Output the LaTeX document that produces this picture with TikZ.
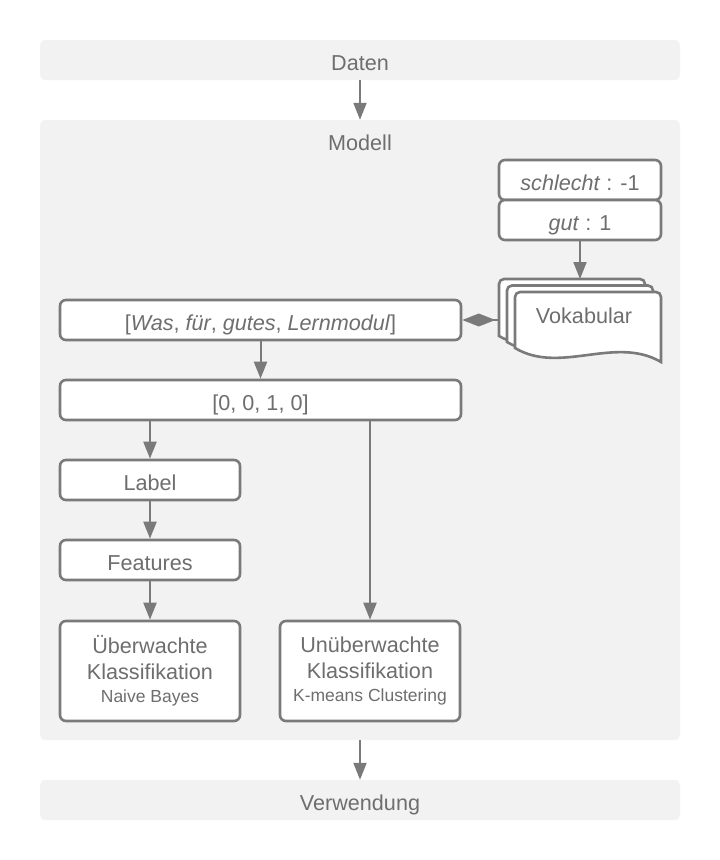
\documentclass[tikz,border=0pt]{standalone}
\usepackage{fontspec}
\setmainfont{Liberation Sans}
\usetikzlibrary{arrows.meta}
\definecolor{bandfill}{HTML}{F2F2F2}
\definecolor{ln}{HTML}{7A7A7A}
\definecolor{tx}{HTML}{6E6E6E}
\newcommand\fsmain{\fontsize{21.6pt}{26pt}\selectfont}
\newcommand\fssmall{\fontsize{17.5pt}{23pt}\selectfont}
\begin{document}
\begin{tikzpicture}[x=1pt,y=-1pt,
  oneline/.style={text height=20.5pt, text depth=0pt},
  bandstyle/.style={fill=bandfill, draw=none, rounded corners=5pt, inner sep=0pt, text=tx, font=\fsmain},
  boxstyle/.style={draw=ln, line width=2.6pt, fill=white, rounded corners=6pt, text=tx, font=\fsmain, inner sep=0pt, align=center},
  pagestyle/.style={draw=ln, line width=2.6pt, fill=white},
  txt/.style={text=tx, font=\fsmain, inner sep=0pt},
  arr/.style={draw=ln, line width=2pt, -{Triangle[length=17pt,width=13pt]}},
  diam/.style={draw=ln, line width=2pt, -{Diamond[length=33pt,width=13pt]}}]
\useasboundingbox (0,0) rectangle (720,860);
\fill[white] (0,0) rectangle (720,860);

% bands
\node[bandstyle, oneline, minimum width=640pt, minimum height=40pt] (daten) at (360,60) {Daten};
\node[bandstyle, minimum width=640pt, minimum height=620pt] (modell) at (360,430) {};
\node[txt] (modelltitle) at (360,143) {Modell};
\node[bandstyle, oneline, minimum width=640pt, minimum height=40pt] (verw) at (360,800) {Verwendung};

\draw[arr] (daten.south) -- (modell.north);
\draw[arr] (modell.south) -- (verw.north);

% vocabulary entries
\node[boxstyle, oneline, minimum width=162pt, minimum height=40pt] (schlecht) at (580,180) {\textit{schlecht} : -1};
\node[boxstyle, oneline, minimum width=162pt, minimum height=40pt] (gut) at (580,220) {\textit{gut} : 1};

% Vokabular pages
\draw[pagestyle] (499,336) [rounded corners=5pt] -- (499,279) -- (645,279) [sharp corners] -- (645,349) .. controls (599,322) and (544,362) .. (499,336) -- cycle;
\draw[pagestyle] (507,342) [rounded corners=5pt] -- (507,285.5) -- (653,285.5) [sharp corners] -- (653,355.5) .. controls (607,328.5) and (552,368.5) .. (507,342) -- cycle;
\draw[pagestyle] (515,348) [rounded corners=5pt] -- (515,292) -- (661,292) [sharp corners] -- (661,362) .. controls (615,335) and (560,375) .. (515,348) -- cycle;
\node[txt] (vok) at (584,316) {Vokabular};
\coordinate (voktop) at (580,279);
\coordinate (vokleft) at (499,320);

\draw[arr] (gut.south) -- (voktop);

% main chain
\node[boxstyle, oneline, minimum width=401pt, minimum height=40pt] (was) at (260.5,320) {[\textit{Was}, \textit{für}, \textit{gutes}, \textit{Lernmodul}]};
\node[boxstyle, oneline, minimum width=401pt, minimum height=40pt] (vec) at (260.5,400) {[0, 0, 1, 0]};
\node[boxstyle, oneline, minimum width=180pt, minimum height=40pt] (label) at (150,480) {Label};
\node[boxstyle, oneline, minimum width=180pt, minimum height=40pt] (feat) at (150,560) {Features};
\node[boxstyle, minimum width=180pt, minimum height=100pt] (sup) at (150,671) {Überwachte\\Klassifikation\\[-3pt]{\fssmall Naive Bayes}};
\node[boxstyle, minimum width=180pt, minimum height=100pt] (unsup) at (370,671) {Unüberwachte\\Klassifikation\\[-3pt]{\fssmall K-means Clustering}};

\draw[diam] (vokleft) -- (was.east);
\draw[arr] (was.south) -- (vec.north);
\draw[arr] (vec.south -| label.north) -- (label.north);
\draw[arr] (vec.south -| unsup.north) -- (unsup.north);
\draw[arr] (label.south) -- (feat.north);
\draw[arr] (feat.south) -- (sup.north);
\end{tikzpicture}
\end{document}
